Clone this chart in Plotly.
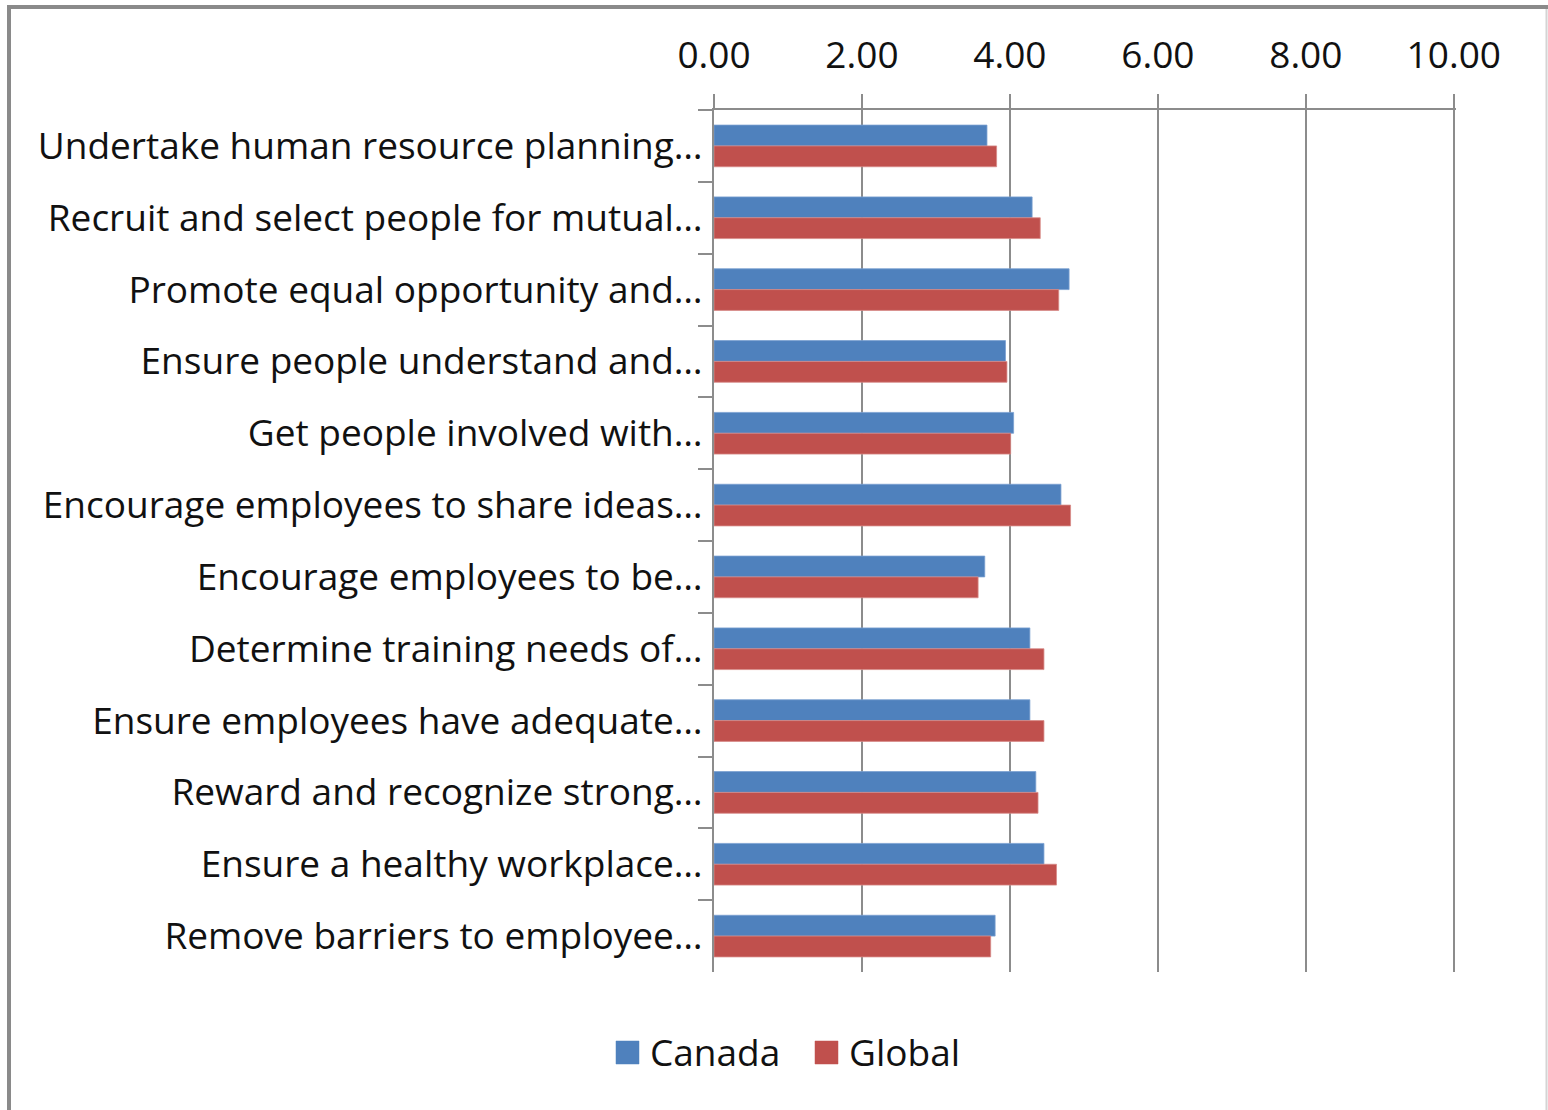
import plotly.graph_objects as go

# Survey categories (top to bottom)
categories = [
    "Undertake human resource planning…",
    "Recruit and select people for mutual…",
    "Promote equal opportunity and…",
    "Ensure people understand and…",
    "Get people involved with…",
    "Encourage employees to share ideas…",
    "Encourage employees to be…",
    "Determine training needs of…",
    "Ensure employees have adequate…",
    "Reward and recognize strong…",
    "Ensure a healthy workplace…",
    "Remove barriers to employee…",
]

canada = [3.69, 4.30, 4.80, 3.94, 4.05, 4.69, 3.66, 4.27, 4.27, 4.35, 4.46, 3.80]
global_scores = [3.82, 4.41, 4.66, 3.96, 4.01, 4.82, 3.57, 4.46, 4.46, 4.38, 4.63, 3.74]

series_names = ["Canada", "Global"]

tick_values = [0, 2, 4, 6, 8, 10]
tick_labels = ["0.00", "2.00", "4.00", "6.00", "8.00", "10.00"]

BLUE = "#4F81BD"
RED = "#C0504D"
FONT = "Open Sans"
FSIZE = 37
W, H = 1548, 1110
L, R, T, B = 714, 92, 110, 138

fig = go.Figure()
fig.add_trace(go.Bar(y=categories, x=canada, name=series_names[0], orientation="h",
                     marker=dict(color=BLUE, line=dict(color="#7aa0d0", width=0.8)),
                     showlegend=False))
fig.add_trace(go.Bar(y=categories, x=global_scores, name=series_names[1], orientation="h",
                     marker=dict(color=RED, line=dict(color="#d78a88", width=0.8)),
                     showlegend=False))

pw = W - L - R
ph = H - T - B


def px_x(p):
    return (p - L) / pw


def px_y(p):
    return (H - B - p) / ph


shapes = [
    # outer chart frame
    dict(type="line", xref="paper", yref="paper", x0=px_x(9), x1=px_x(9),
         y0=px_y(6), y1=px_y(1115), line=dict(color="#8a8a8a", width=4)),
    dict(type="line", xref="paper", yref="paper", x0=px_x(7), x1=px_x(1550),
         y0=px_y(7), y1=px_y(7), line=dict(color="#8a8a8a", width=4)),
    dict(type="line", xref="paper", yref="paper", x0=px_x(1546.5), x1=px_x(1546.5),
         y0=px_y(9), y1=px_y(1115), line=dict(color="#d4d4d4", width=2)),
]
annotations = []

# bottom legend: square swatch followed by the series name
legend_items = [(series_names[0], BLUE, 616), (series_names[1], RED, 815)]
for name, col, x0 in legend_items:
    shapes.append(dict(type="rect", xref="paper", yref="paper",
                       x0=px_x(x0), x1=px_x(x0 + 23), y0=px_y(1064), y1=px_y(1041),
                       fillcolor=col, line=dict(color=col, width=0.5)))
    annotations.append(dict(xref="paper", yref="paper", x=px_x(x0 + 32), y=px_y(1051),
                            xanchor="left", yanchor="middle", text=name,
                            showarrow=False, font=dict(family=FONT, size=FSIZE,
                                                       color="#111111")))

fig.update_layout(
    width=W, height=H,
    margin=dict(l=L, r=R, t=T, b=B, pad=0),
    paper_bgcolor="white", plot_bgcolor="white",
    barmode="group", bargap=0.42, bargroupgap=0,
    font=dict(family=FONT, size=FSIZE, color="#111111"),
    showlegend=False,
    xaxis=dict(side="top", range=[0, 10.03], tickvals=tick_values, ticktext=tick_labels,
               showgrid=True, gridcolor="#8c8c8c", gridwidth=2,
               showline=True, linecolor="#8c8c8c", linewidth=2,
               ticks="outside", ticklen=14, tickwidth=2, tickcolor="#8c8c8c",
               ticklabelstandoff=11, zeroline=False, fixedrange=True),
    yaxis=dict(autorange="reversed", showgrid=False, showline=True,
               linecolor="#8c8c8c", linewidth=2, ticks="outside", tickson="boundaries",
               ticklen=14, tickwidth=2, tickcolor="#8c8c8c", ticklabelstandoff=2,
               fixedrange=True),
    shapes=shapes,
    annotations=annotations,
)

fig.write_html("out.html")
